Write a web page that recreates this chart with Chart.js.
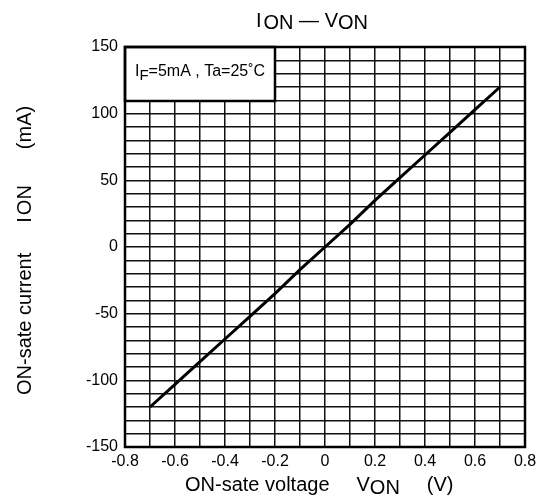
<!DOCTYPE html>
<html>
<head>
<meta charset="utf-8">
<script src="https://cdn.jsdelivr.net/npm/chart.js@4"></script>
<style>
  html, body { margin: 0; padding: 0; background: #fff; }
  #wrap { width: 543px; height: 502px; }
</style>
</head>
<body>
<div id="wrap"><canvas id="ionVon"></canvas></div>
<script>
const voltage = [-0.7, -0.6, -0.5, -0.4, -0.3, -0.2, -0.1, 0, 0.1, 0.2, 0.3, 0.4, 0.5, 0.6, 0.7];
const current = [-120, -103, -86, -69, -52, -35, -17, 0, 17, 35, 52, 69, 86, 103, 120];
const xTickLabels = ['-0.8', '-0.6', '-0.4', '-0.2', '0', '0.2', '0.4', '0.6', '0.8'];
const yTickLabels = ['-150', '-100', '-50', '0', '50', '100', '150'];
const conditionText = ['I', 'F', '=5mA , Ta=25˚C'];

const FONT = "'Liberation Sans', Arial, sans-serif";
Chart.defaults.font.family = FONT;
Chart.defaults.color = '#000';

// draws a row of pieces; pieces = [text, size, dy, gapAfter]
function drawPieces(ctx, pieces, x, y) {
  pieces.forEach(p => {
    ctx.font = p[1] + 'px ' + FONT;
    ctx.fillText(p[0], x, y + (p[2] || 0));
    x += ctx.measureText(p[0]).width + (p[3] || 0);
  });
}
function piecesWidth(ctx, pieces) {
  let w = 0;
  pieces.forEach(p => {
    ctx.font = p[1] + 'px ' + FONT;
    w += ctx.measureText(p[0]).width + (p[3] || 0);
  });
  return w;
}

const decor = {
  id: 'decor',
  afterDatasetsDraw(chart) {
    const ctx = chart.ctx;
    const a = chart.chartArea;
    const xs = chart.scales.x;
    ctx.save();
    // condition box
    const bx1 = xs.getPixelForValue(-0.2);
    const bh = 54;
    ctx.fillStyle = '#fff';
    ctx.fillRect(a.left, a.top, bx1 - a.left, bh);
    ctx.strokeStyle = '#000';
    ctx.lineWidth = 2.5;
    ctx.strokeRect(a.left, a.top, bx1 - a.left, bh);
    ctx.fillStyle = '#000';
    ctx.textBaseline = 'alphabetic';
    ctx.textAlign = 'left';
    drawPieces(ctx, [[conditionText[0], 16, 0], [conditionText[1], 15, 4], [conditionText[2], 16, 0]], a.left + 10, a.top + 29);

    // frame
    ctx.lineWidth = 2.5;
    ctx.strokeRect(a.left, a.top, a.right - a.left, a.bottom - a.top);

    // title
    const title = [['I', 20, 0, 2], ['ON', 20, 2], [' — ', 20, 0], ['V', 20, 0], ['ON', 20, 2]];
    const tw = piecesWidth(ctx, title);
    drawPieces(ctx, title, 312 - tw / 2, 27);

    // x axis title
    const xt = [['ON-sate voltage', 20, 0, 27], ['V', 20, 0], ['ON', 20, 3, 27], ['(V)', 20, 0]];
    drawPieces(ctx, xt, 185, 491);

    // y axis title
    ctx.translate(31, 395);
    ctx.rotate(-Math.PI / 2);
    const yt = [['ON-sate current', 20, 0, 30], ['I', 20, 0, 2], ['ON', 20, 0, 36], ['(mA)', 20, 0]];
    drawPieces(ctx, yt, 0, 0);
    ctx.restore();
  }
};

new Chart(document.getElementById('ionVon'), {
  type: 'scatter',
  data: {
    datasets: [{
      data: voltage.map((v, i) => ({ x: v, y: current[i] })),
      showLine: true,
      borderColor: '#000',
      borderWidth: 3,
      pointRadius: 0,
      tension: 0
    }]
  },
  options: {
    responsive: true,
    maintainAspectRatio: false,
    animation: false,
    layout: { padding: { top: 47, right: 18, left: 0, bottom: 0 } },
    plugins: { legend: { display: false }, tooltip: { enabled: false } },
    scales: {
      x: {
        type: 'linear',
        min: -0.8, max: 0.8,
        afterFit: s => { s.height = 55; },
        grid: { color: '#111', lineWidth: 1.5, drawTicks: false },
        border: { display: false },
        ticks: {
          stepSize: 0.1, autoSkip: false, maxRotation: 0, padding: 5,
          font: { size: 16 },
          callback: v => {
            const r = Math.round(v * 10);
            return r % 2 === 0 ? xTickLabels[(r + 8) / 2] : '';
          }
        }
      },
      y: {
        type: 'linear',
        min: -150, max: 150,
        afterFit: s => { s.width = 125; },
        grid: { color: '#111', lineWidth: 1.5, drawTicks: false },
        border: { display: false },
        ticks: {
          stepSize: 10, autoSkip: false, padding: 7,
          font: { size: 16 },
          callback: v => (Math.round(v) % 50 === 0 ? yTickLabels[(Math.round(v) + 150) / 50] : '')
        }
      }
    }
  },
  plugins: [decor]
});
</script>
</body>
</html>
